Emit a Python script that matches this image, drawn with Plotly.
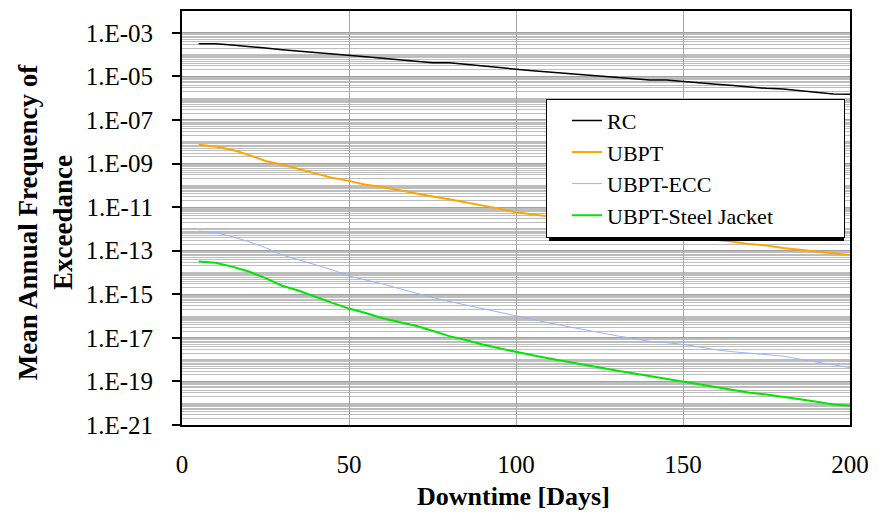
import plotly.graph_objects as go

# Downtime in days
days = list(range(5, 205, 5))

# Mean annual frequency of exceedance for each system
rc = [3.16e-4, 3.16e-4, 2.75e-4, 2.40e-4, 2.00e-4, 1.66e-4, 1.45e-4, 1.23e-4, 1.05e-4, 9.1e-5,
      7.9e-5, 6.8e-5, 5.75e-5, 4.9e-5, 4.27e-5, 4.17e-5, 3.47e-5, 2.88e-5, 2.45e-5, 2.14e-5,
      1.82e-5, 1.58e-5, 1.38e-5, 1.20e-5, 1.05e-5, 9.1e-6, 7.9e-6, 6.9e-6, 6.8e-6, 5.75e-6,
      5.0e-6, 4.37e-6, 3.8e-6, 3.16e-6, 2.82e-6, 2.63e-6, 2.24e-6, 1.86e-6, 1.55e-6, 1.51e-6]
ubpt = [7.2e-9, 6.0e-9, 4.3e-9, 2.5e-9, 1.3e-9, 8.9e-10, 5.6e-10, 3.5e-10, 2.2e-10, 1.6e-10,
        1.07e-10, 8.3e-11, 5.9e-11, 4.2e-11, 3.1e-11, 2.3e-11, 1.66e-11, 1.23e-11, 8.5e-12, 5.75e-12,
        4.7e-12, 3.7e-12, 2.75e-12, 2.1e-12, 1.45e-12, 1.05e-12, 8.7e-13, 7.1e-13, 5.9e-13, 4.9e-13,
        4.0e-13, 3.3e-13, 2.6e-13, 2.0e-13, 1.74e-13, 1.32e-13, 1.10e-13, 9.1e-14, 7.6e-14, 6.3e-14]
ubpt_ecc = [7.9e-13, 6.9e-13, 4.4e-13, 2.6e-13, 1.38e-13, 6.3e-14, 3.8e-14, 2.2e-14, 1.32e-14, 6.8e-15,
            4.5e-15, 3.0e-15, 1.82e-15, 1.12e-15, 7.2e-16, 4.7e-16, 3.2e-16, 2.1e-16, 1.48e-16, 1.02e-16,
            6.9e-17, 4.8e-17, 3.4e-17, 2.4e-17, 1.74e-17, 1.26e-17, 9.3e-18, 6.9e-18, 6.0e-18, 5.0e-18,
            3.8e-18, 2.8e-18, 2.3e-18, 2.0e-18, 1.66e-18, 1.45e-18, 1.05e-18, 7.9e-19, 6.0e-19, 4.3e-19]
ubpt_sj = [3.2e-14, 2.8e-14, 1.86e-14, 1.10e-14, 5.5e-15, 2.45e-15, 1.45e-15, 7.4e-16, 4.0e-16, 2.2e-16,
           1.38e-16, 7.9e-17, 5.2e-17, 3.6e-17, 2.1e-17, 1.2e-17, 7.9e-18, 4.9e-18, 3.3e-18, 2.2e-18,
           1.58e-18, 1.12e-18, 8.1e-19, 6.0e-19, 4.4e-19, 3.2e-19, 2.4e-19, 1.78e-19, 1.32e-19, 9.5e-20,
           7.4e-20, 5.5e-20, 4.0e-20, 3.0e-20, 2.5e-20, 2.0e-20, 1.51e-20, 1.17e-20, 8.7e-21, 7.6e-21]

series_names = ["RC", "UBPT", "UBPT-ECC", "UBPT-Steel Jacket"]
series_values = [rc, ubpt, ubpt_ecc, ubpt_sj]
series_colors = ["#000000", "#FFA500", "#99B4FF", "#00E600"]
series_widths = [1.5, 2, 1, 2]

x_ticks = [0, 50, 100, 150, 200]
y_exponents = list(range(-3, -22, -2))
y_tickvals = [10.0 ** e for e in y_exponents]
y_ticktext = ["1.E-%02d" % (-e) for e in y_exponents]
minor_vals = [k * 10.0 ** n for n in range(-21, -3) for k in range(1, 10)]

FONT = "Liberation Serif, Times New Roman, serif"
PAD = "\u00a0" * 12  # widens the legend box beyond the longest label

fig = go.Figure()
for name, vals, col, w in zip(series_names, series_values, series_colors, series_widths):
    label = name + PAD if name == "UBPT-Steel Jacket" else name
    fig.add_trace(go.Scatter(x=days, y=vals, mode="lines", name=label,
                             line=dict(color=col, width=w)))

L, R, T, B = 182, 36, 9, 88
W, H = 886, 513
pw, ph = W - L - R, H - T - B

# legend box placement (pixels)
LG_LEFT, LG_TOP, LG_RIGHT, LG_BOTTOM = 546, 97, 841, 237

fig.update_layout(
    width=W, height=H,
    margin=dict(l=L, r=R, t=T, b=B, pad=0),
    paper_bgcolor="white", plot_bgcolor="white",
    font=dict(family=FONT, color="black", size=25),
    showlegend=True,
    legend=dict(x=(LG_LEFT - L) / pw, y=(H - B - LG_TOP) / ph, xanchor="left", yanchor="top",
                bgcolor="white", bordercolor="black", borderwidth=1,
                font=dict(family=FONT, size=22, color="black"),
                indentation=20, tracegroupgap=0),
    xaxis=dict(range=[0, 200], tickvals=x_ticks, showgrid=True, gridcolor="#a6a6a6",
               gridwidth=1, zeroline=False, showline=True, linecolor="black",
               linewidth=2, mirror=True, ticks="", ticklabelstandoff=16,
               tickfont=dict(size=25)),
    yaxis=dict(type="log", range=[-21, -2], tickvals=y_tickvals, ticktext=y_ticktext,
               showgrid=True, gridcolor="#a0a0a0", gridwidth=1, zeroline=False,
               showline=True, linecolor="black", linewidth=2, mirror=True,
               ticks="outside", ticklen=8, tickcolor="black", tickwidth=1.5,
               ticklabelstandoff=14, tickfont=dict(size=25),
               minor=dict(tickvals=minor_vals, showgrid=True, gridcolor="#bdbdbd",
                          gridwidth=1, ticks="")),
    yaxis2=dict(type="log", range=[-21, -2], overlaying="y", side="left",
                tickvals=y_tickvals, showticklabels=False, showgrid=False,
                zeroline=False, ticks="inside", ticklen=8, tickcolor="black",
                tickwidth=1.5, showline=False),
)

# Legend drop shadow (sits under the legend, offset down-right)
fig.add_shape(type="rect", xref="paper", yref="paper",
              x0=(LG_LEFT + 3 - L) / pw, x1=(LG_RIGHT + 3 - L) / pw,
              y0=(H - B - (LG_BOTTOM + 3)) / ph, y1=(H - B - (LG_TOP + 3)) / ph,
              fillcolor="black", line=dict(width=0), layer="above")

# Axis titles
fig.add_annotation(text="<b>Mean Annual Frequency of<br>Exceedance</b>",
                   xref="paper", yref="paper", x=(45 - L) / pw, y=0.49,
                   xanchor="center", yanchor="middle", textangle=-90, showarrow=False,
                   font=dict(family=FONT, size=27, color="black"))
fig.add_annotation(text="<b>Downtime [Days]</b>", xref="paper", yref="paper",
                   x=(513 - L) / pw, y=(H - B - 497) / ph, xanchor="center",
                   yanchor="middle", showarrow=False,
                   font=dict(family=FONT, size=26, color="black"))

fig.write_html("out.html")
